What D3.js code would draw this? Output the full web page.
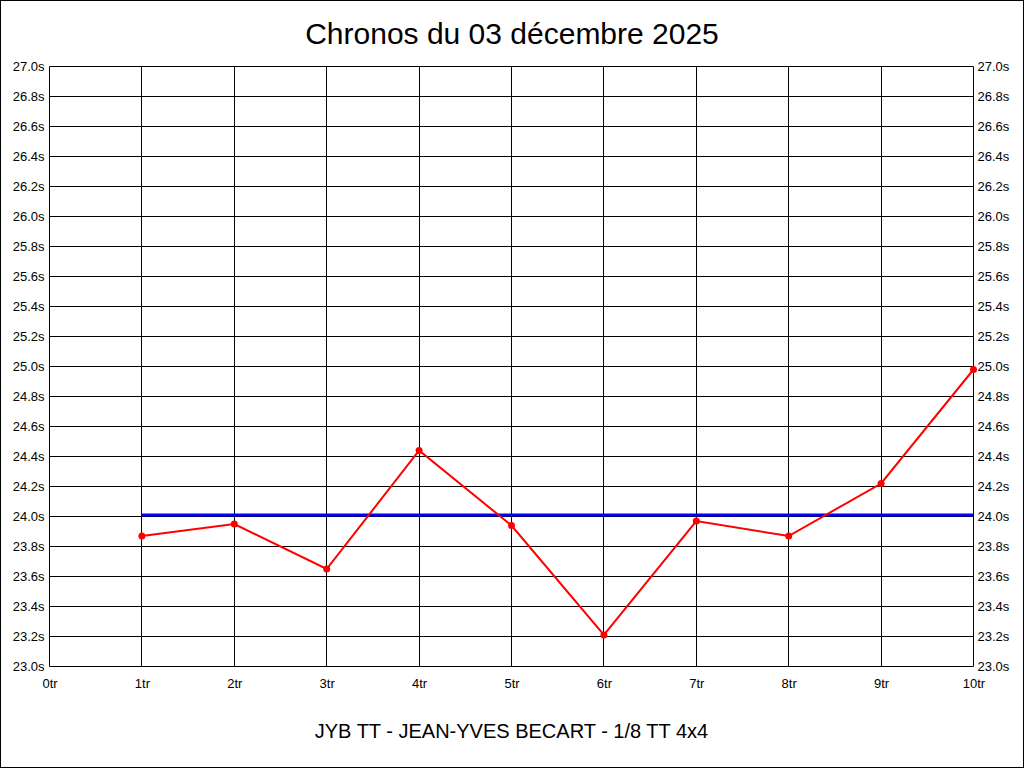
<!DOCTYPE html>
<html><head><meta charset="utf-8">
<script src="https://cdn.jsdelivr.net/npm/d3@7"></script>
<style>
html,body{margin:0;padding:0;background:#fff;}
svg{display:block;}
</style></head>
<body>
<script>
const title = "Chronos du 03 décembre 2025";
const footer = "JYB TT - JEAN-YVES BECART - 1/8 TT 4x4";
const laps = [1,2,3,4,5,6,7,8,9,10];
const times = [23.87,23.95,23.65,24.44,23.94,23.21,23.97,23.87,24.22,24.98];
const xTicks = [0,1,2,3,4,5,6,7,8,9,10];
const yTicks = d3.range(0,21).map(i => +(23 + i*0.2).toFixed(1));
const average = d3.mean(times);

const W = 1024, H = 768;
const svg = d3.select("body").append("svg").attr("width", W).attr("height", H);

svg.append("rect").attr("x",0.5).attr("y",0.5).attr("width",W-1).attr("height",H-1)
  .attr("fill","#fff").attr("stroke","#000").attr("stroke-width",1);

const x = d3.scaleLinear().domain([0,10]).range([49.5, 973.5]);
const y = d3.scaleLinear().domain([23,27]).range([666.5, 66.5]);

const sans = "'Liberation Sans',Arial,sans-serif";

// grid
const g = svg.append("g");
g.selectAll(".h").data(yTicks).join("line")
  .attr("x1", x(0)).attr("x2", x(10))
  .attr("y1", d => Math.round(y(d)-0.5)+0.5).attr("y2", d => Math.round(y(d)-0.5)+0.5)
  .attr("stroke","#000").attr("stroke-width",1);
g.selectAll(".v").data(xTicks).join("line")
  .attr("x1", d => Math.round(x(d)-0.5)+0.5).attr("x2", d => Math.round(x(d)-0.5)+0.5)
  .attr("y1", y(23)).attr("y2", y(27))
  .attr("stroke","#000").attr("stroke-width",1);

const fmt = d => d.toFixed(1) + "s";
const yl = d3.axisLeft(y).tickValues(yTicks).tickFormat(fmt).tickSize(0).tickPadding(5);
const yr = d3.axisRight(y).tickValues(yTicks).tickFormat(fmt).tickSize(0).tickPadding(4);
const xa = d3.axisBottom(x).tickValues(xTicks).tickFormat(d => d + "tr").tickSize(0).tickPadding(12);

function styleAxis(sel){
  sel.select(".domain").remove();
  sel.selectAll("text").attr("font-family", sans).attr("font-size", 13).attr("fill","#000");
}
svg.append("g").attr("transform",`translate(${x(0)},0)`).call(yl).call(styleAxis);
svg.append("g").attr("transform",`translate(${x(10)},0)`).call(yr).call(styleAxis);
svg.append("g").attr("transform",`translate(0,${y(23)})`).call(xa).call(styleAxis);

// average line
svg.append("line")
  .attr("x1", x(laps[0])).attr("x2", x(laps[laps.length-1]))
  .attr("y1", y(average)).attr("y2", y(average))
  .attr("stroke","#0000ff").attr("stroke-width",3);

// data line
const line = d3.line().x((d,i) => x(laps[i])).y(d => y(d));
svg.append("path").datum(times).attr("d", line)
  .attr("fill","none").attr("stroke","#ff0000").attr("stroke-width",2);
svg.selectAll(".pt").data(times).join("circle")
  .attr("cx",(d,i)=>x(laps[i])).attr("cy",d=>y(d)).attr("r",3.5).attr("fill","#ff0000");

// title & footer
svg.append("text").attr("x",512).attr("y",44).attr("text-anchor","middle")
  .attr("font-family",sans).attr("font-size",30).attr("fill","#000").text(title);
svg.append("text").attr("x",511.5).attr("y",738).attr("text-anchor","middle")
  .attr("font-family",sans).attr("font-size",20).attr("fill","#000").text(footer);
</script>
</body></html>
